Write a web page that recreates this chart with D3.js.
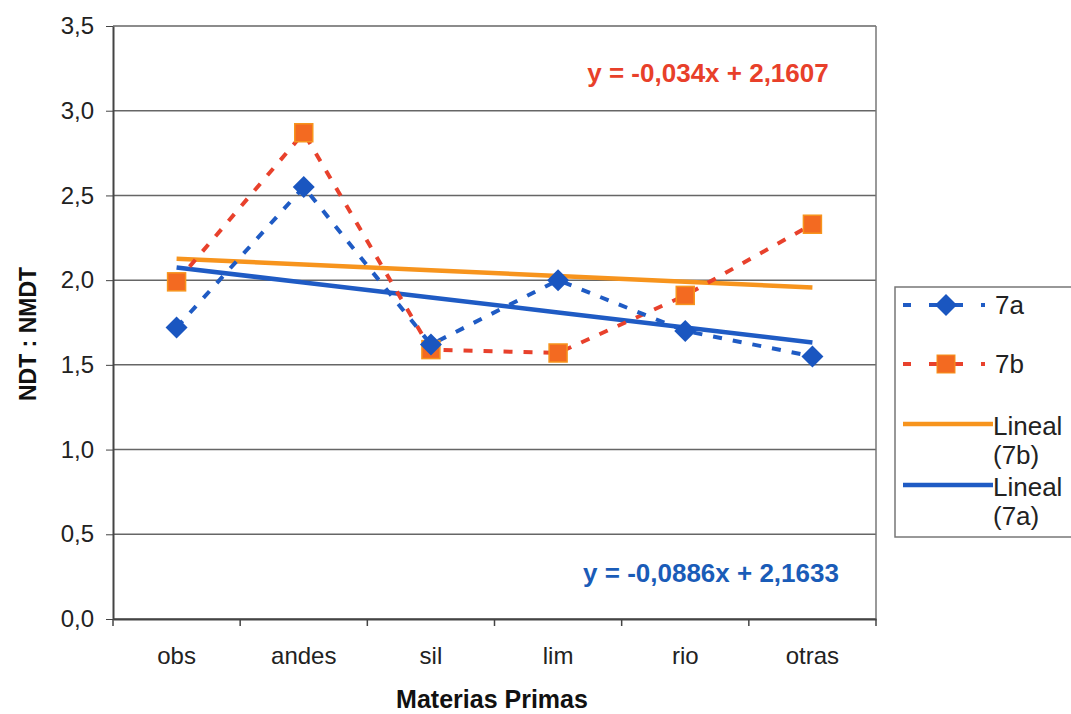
<!DOCTYPE html>
<html><head><meta charset="utf-8">
<script src="https://cdn.jsdelivr.net/npm/d3@7"></script>
<style>body{margin:0;background:#fff}svg{font-family:Arial,"Liberation Sans",sans-serif}</style>
</head><body><svg id="c" width="1071" height="714"></svg>
<script>
const categories = ["obs","andes","sil","lim","rio","otras"];
const values7a = [1.72, 2.55, 1.62, 2.00, 1.70, 1.55];
const values7b = [1.99, 2.87, 1.59, 1.57, 1.91, 2.33];
const trend7a = {slope:-0.0886, intercept:2.1633, label:"y = -0,0886x + 2,1633"};
const trend7b = {slope:-0.034, intercept:2.1607, label:"y = -0,034x + 2,1607"};
const yTicks = [0,0.5,1,1.5,2,2.5,3,3.5];

const svg = d3.select("#c");
const L=113, R=876, T=26, B=619;
const x = d3.scaleBand().domain(categories).range([L,R]);
const y = d3.scaleLinear().domain([0,3.5]).range([B,T]);
const fmt = d => d3.format(".1f")(d).replace(".",",");

// gridlines
svg.append("g").selectAll("line").data(yTicks).join("line")
  .attr("x1",L).attr("x2",R).attr("y1",d=>y(d)).attr("y2",d=>y(d))
  .attr("stroke","#666").attr("stroke-width",1.5);
// right border
svg.append("line").attr("x1",R).attr("x2",R).attr("y1",T).attr("y2",B).attr("stroke","#777").attr("stroke-width",1.5);

const ya = svg.append("g").attr("transform",`translate(${L},0)`)
  .call(d3.axisLeft(y).tickValues(yTicks).tickFormat(fmt).tickSize(7).tickSizeOuter(0).tickPadding(12));
ya.select(".domain").attr("stroke","#444").attr("stroke-width",2);
ya.selectAll("line").attr("stroke","#444");
ya.selectAll("text").attr("font-size",24).attr("fill","#222");

const xa = svg.append("g").attr("transform",`translate(0,${B})`)
  .call(d3.axisBottom(x).tickSize(0).tickPadding(28));
xa.select(".domain").attr("stroke","#444").attr("stroke-width",2);
xa.selectAll("text").attr("font-size",24).attr("fill","#222");
// category boundary ticks
const bounds = categories.map(c=>x(c)).concat([R]);
svg.append("g").selectAll("line").data(bounds).join("line")
  .attr("x1",d=>d).attr("x2",d=>d).attr("y1",B).attr("y2",B+7).attr("stroke","#444").attr("stroke-width",1.5);

const cx = c => x(c)+x.bandwidth()/2;
const lineGen = d3.line().x((d,i)=>cx(categories[i])).y(d=>y(d));

// trend lines
function trendPts(t){ return categories.map((c,i)=>t.slope*(i+1)+t.intercept); }
svg.append("path").attr("d",lineGen(trendPts(trend7b))).attr("fill","none")
  .attr("stroke","#f7941d").attr("stroke-width",4.5);
svg.append("path").attr("d",lineGen(trendPts(trend7a))).attr("fill","none")
  .attr("stroke","#1f5bc4").attr("stroke-width",4.5);

// series
svg.append("path").attr("d",lineGen(values7b)).attr("fill","none")
  .attr("stroke","#e8412c").attr("stroke-width",4).attr("stroke-dasharray","9,11");
svg.append("path").attr("d",lineGen(values7a)).attr("fill","none")
  .attr("stroke","#1f5bc4").attr("stroke-width",4).attr("stroke-dasharray","9,11");

svg.append("g").selectAll("rect").data(values7b).join("rect")
  .attr("x",(d,i)=>cx(categories[i])-9).attr("y",d=>y(d)-9).attr("width",18).attr("height",18)
  .attr("fill","#f36a21").attr("stroke","#f7941d").attr("stroke-width",1.5);
svg.append("g").selectAll("path").data(values7a).join("path")
  .attr("d",(d,i)=>{const px=cx(categories[i]),py=y(d),s=11;return `M${px},${py-s}L${px+s},${py}L${px},${py+s}L${px-s},${py}Z`;})
  .attr("fill","#1a56c0");

// equations
svg.append("text").attr("x",708).attr("y",82).attr("text-anchor","middle").attr("font-size",26).attr("font-weight","bold")
  .attr("fill","#e8402a").text(trend7b.label);
svg.append("text").attr("x",711).attr("y",582).attr("text-anchor","middle").attr("font-size",26).attr("font-weight","bold")
  .attr("fill","#1a5cb8").text(trend7a.label);

// axis titles
svg.append("text").attr("transform","translate(36,334) rotate(-90)").attr("text-anchor","middle")
  .attr("font-size",23).attr("font-weight","bold").attr("fill","#111").text("NDT : NMDT");
svg.append("text").attr("x",492).attr("y",708).attr("text-anchor","middle")
  .attr("font-size",25).attr("font-weight","bold").attr("fill","#111").text("Materias Primas");

// legend
const lg = svg.append("g");
lg.append("rect").attr("x",895).attr("y",287).attr("width",190).attr("height",250).attr("fill","#fff").attr("stroke","#777").attr("stroke-width",1.5);
lg.append("line").attr("x1",903).attr("x2",985).attr("y1",305).attr("y2",305).attr("stroke","#1f5bc4").attr("stroke-width",4).attr("stroke-dasharray","8,18").attr("stroke-dashoffset",0);
lg.append("path").attr("d","M946,294L957,305L946,316L935,305Z").attr("fill","#1a56c0");
lg.append("text").attr("x",995).attr("y",314).attr("font-size",26).attr("fill","#222").text("7a");
lg.append("line").attr("x1",903).attr("x2",985).attr("y1",364).attr("y2",364).attr("stroke","#e8412c").attr("stroke-width",4).attr("stroke-dasharray","8,18");
lg.append("rect").attr("x",937).attr("y",355).attr("width",18).attr("height",18).attr("fill","#f36a21").attr("stroke","#f7941d");
lg.append("text").attr("x",995).attr("y",373).attr("font-size",26).attr("fill","#222").text("7b");
lg.append("line").attr("x1",903).attr("x2",993).attr("y1",424).attr("y2",424).attr("stroke","#f7941d").attr("stroke-width",4.5);
lg.append("text").attr("x",993).attr("y",435).attr("font-size",26).attr("fill","#222").text("Lineal");
lg.append("text").attr("x",993).attr("y",464).attr("font-size",26).attr("fill","#222").text("(7b)");
lg.append("line").attr("x1",903).attr("x2",993).attr("y1",485).attr("y2",485).attr("stroke","#1f5bc4").attr("stroke-width",4.5);
lg.append("text").attr("x",993).attr("y",496).attr("font-size",26).attr("fill","#222").text("Lineal");
lg.append("text").attr("x",993).attr("y",525).attr("font-size",26).attr("fill","#222").text("(7a)");
</script></body></html>
